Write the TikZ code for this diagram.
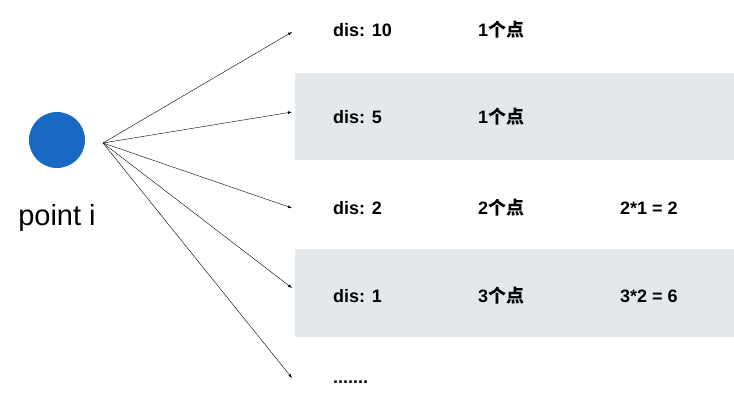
\documentclass[tikz,border=0pt]{standalone}
\usepackage{fontspec}
\setmainfont{Liberation Sans}
\newfontfamily\cjk{Noto Sans CJK SC}
\usetikzlibrary{positioning}
\definecolor{dotblue}{HTML}{1769C4}
\definecolor{bandgray}{HTML}{E5E8EB}
\tikzset{
  lbl/.style={anchor=west,inner sep=0pt,font=\fontsize{18}{20}\selectfont\bfseries},
  ray/.style={-latex,thin}
}
\newcommand{\gedian}[1]{#1{\cjk\bfseries 个点}}
\begin{document}
\begin{tikzpicture}[x=1pt,y=-1pt]
            \useasboundingbox (0,0) rectangle (734,404);

            %bands
            \fill[bandgray] (295,73) rectangle (734,160);

            \fill[bandgray] (295,249) rectangle (734,337);

            %point
            \fill[dotblue] (57,140) circle (28);

            \node[font=\fontsize{29}{32}\selectfont] (pt) at (57,218) {point i};

            \coordinate (src) at (103,143);

            %rows
            \coordinate (e1) at (292,32);

            \coordinate (e2) at (292,112);

            \coordinate (e3) at (292,208);

            \coordinate (e4) at (292,288);

            \coordinate (e5) at (292,378);

            \node[lbl] (d1) at (333,30) {dis: 10};
            \node[lbl] (n1) at (478,30) {\gedian{1}};

            \node[lbl] (d2) at (333,117) {dis: 5};
            \node[lbl] (n2) at (478,117) {\gedian{1}};

            \node[lbl] (d3) at (333,208) {dis: 2};
            \node[lbl] (n3) at (478,208) {\gedian{2}};
            \node[lbl] (c3) at (620,208) {2*1 = 2};

            \node[lbl] (d4) at (333,296) {dis: 1};
            \node[lbl] (n4) at (478,296) {\gedian{3}};
            \node[lbl] (c4) at (620,296) {3*2 = 6};

            \node[lbl] (d5) at (333,382) {.......};

            %arrows
            \foreach \e in {e1,e2,e3,e4,e5}
              \draw[ray] (src) -- (\e);
        \end{tikzpicture}
\end{document}
